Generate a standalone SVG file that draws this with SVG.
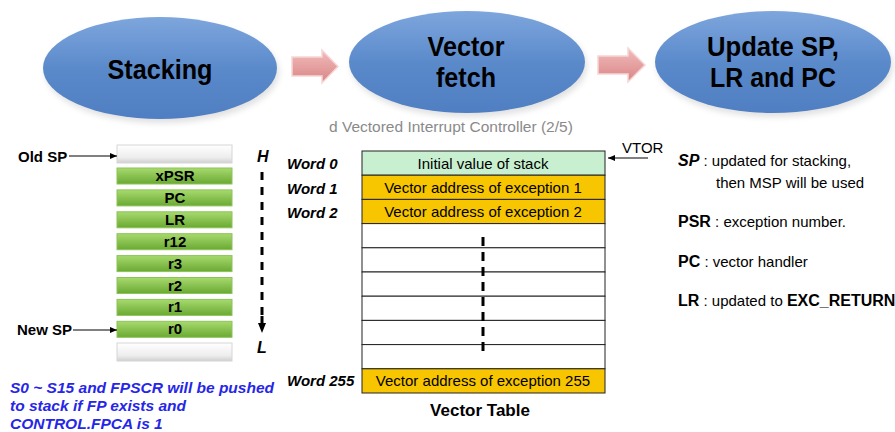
<svg xmlns="http://www.w3.org/2000/svg" width="895" height="432" viewBox="0 0 895 432">
<defs>
  <linearGradient id="gBlue" x1="0" y1="0" x2="0" y2="1">
    <stop offset="0" stop-color="#7ea6dd"/>
    <stop offset="0.5" stop-color="#5b8acb"/>
    <stop offset="1" stop-color="#4f7ec2"/>
  </linearGradient>
  <linearGradient id="gPink" x1="0" y1="0" x2="0" y2="1">
    <stop offset="0" stop-color="#f2bcbc"/>
    <stop offset="1" stop-color="#d98585"/>
  </linearGradient>
  <linearGradient id="gGreen" x1="0" y1="0" x2="0" y2="1">
    <stop offset="0" stop-color="#a8da6e"/>
    <stop offset="1" stop-color="#6aa933"/>
  </linearGradient>
  <linearGradient id="gEmpty" x1="0" y1="0" x2="0" y2="1">
    <stop offset="0" stop-color="#ffffff"/>
    <stop offset="0.7" stop-color="#ededed"/>
    <stop offset="1" stop-color="#cfcfcf"/>
  </linearGradient>
  <filter id="blur" x="-20%" y="-20%" width="140%" height="140%">
    <feGaussianBlur stdDeviation="3"/>
  </filter>
  <marker id="ah" markerWidth="8" markerHeight="8" refX="7" refY="4" orient="auto" markerUnits="userSpaceOnUse">
    <path d="M0,1 L7,4 L0,7 Z" fill="#000"/>
  </marker>
</defs>
<style>
  .ell { fill: url(#gBlue); }
  .shadow { fill: #000; opacity: 0.12; filter: url(#blur); }
  .big { font-family: "Liberation Sans", Arial, sans-serif; font-weight: bold; font-size: 27px; fill: #000; text-anchor: middle; }
  .barrow { fill: url(#gPink); stroke: #f7d6d6; stroke-width: 1.5; }
  .gbox { fill: url(#gGreen); stroke: #8cc458; stroke-width: 1; }
  .ebox { fill: url(#gEmpty); stroke: #d6d6d6; stroke-width: 1; }
  .blbl { font-family: "Liberation Sans", Arial, sans-serif; font-weight: bold; font-size: 15px; fill: #000; text-anchor: middle; }
  .sp { font-family: "Liberation Sans", Arial, sans-serif; font-weight: bold; font-size: 15px; fill: #000; }
  .hl { font-family: "Liberation Sans", Arial, sans-serif; font-weight: bold; font-style: italic; font-size: 16px; fill: #000; }
  .word { font-family: "Liberation Sans", Arial, sans-serif; font-weight: bold; font-style: italic; font-size: 15px; fill: #000; }
  .cell { stroke: #222; stroke-width: 1; }
  .ctext { font-family: "Liberation Sans", Arial, sans-serif; font-size: 15px; fill: #000; text-anchor: middle; }
  .conn { stroke: #000; stroke-width: 1; fill: none; }
  .dash { stroke: #000; stroke-width: 3; fill: none; }
  .blue { font-family: "Liberation Sans", Arial, sans-serif; font-weight: bold; font-style: italic; font-size: 15.5px; fill: #2626e8; }
  .rl { font-family: "Liberation Sans", Arial, sans-serif; font-weight: bold; font-size: 16px; fill: #000; }
  .rd { font-family: "Liberation Sans", Arial, sans-serif; font-size: 15px; fill: #000; }
</style>
<rect width="895" height="432" fill="#ffffff"/>

<!-- Top process ellipses -->
<g id="stacking">
  <ellipse class="shadow" cx="162" cy="72" rx="117" ry="51"/>
  <ellipse class="ell" cx="160" cy="68" rx="117" ry="51"/>
  <text class="big" x="160" y="79" textLength="105" lengthAdjust="spacingAndGlyphs">Stacking</text>
</g>
<g id="vector-fetch">
  <ellipse class="shadow" cx="469" cy="66" rx="118" ry="51"/>
  <ellipse class="ell" cx="467" cy="62" rx="118" ry="51"/>
  <text class="big" x="466" y="56" textLength="77" lengthAdjust="spacingAndGlyphs">Vector</text>
  <text class="big" x="466" y="87" textLength="60" lengthAdjust="spacingAndGlyphs">fetch</text>
</g>
<g id="update">
  <ellipse class="shadow" cx="775" cy="66" rx="118" ry="51"/>
  <ellipse class="ell" cx="773" cy="62" rx="118" ry="51"/>
  <text class="big" x="773" y="56" textLength="132" lengthAdjust="spacingAndGlyphs">Update SP,</text>
  <text class="big" x="773" y="87" textLength="126" lengthAdjust="spacingAndGlyphs">LR and PC</text>
</g>

<!-- Caption -->
<text x="329" y="132" font-family="'Liberation Sans', Arial, sans-serif" font-size="15.5" fill="#8a8a8a">d Vectored Interrupt Controller (2/5)</text>

<!-- Stack -->
<g id="stack">
  <text class="sp" x="18" y="162">Old SP</text>
  <text class="sp" x="17" y="335">New SP</text>
  <rect class="ebox" x="117" y="145" width="115" height="18"/>
  <rect class="gbox" x="117" y="168" width="115" height="16"/>
  <text class="blbl" x="175" y="181">xPSR</text>
  <rect class="gbox" x="117" y="189.9" width="115" height="16"/>
  <text class="blbl" x="175" y="202.9">PC</text>
  <rect class="gbox" x="117" y="211.8" width="115" height="16"/>
  <text class="blbl" x="175" y="224.8">LR</text>
  <rect class="gbox" x="117" y="233.7" width="115" height="16"/>
  <text class="blbl" x="175" y="246.7">r12</text>
  <rect class="gbox" x="117" y="255.6" width="115" height="16"/>
  <text class="blbl" x="175" y="268.6">r3</text>
  <rect class="gbox" x="117" y="277.5" width="115" height="16"/>
  <text class="blbl" x="175" y="290.5">r2</text>
  <rect class="gbox" x="117" y="299.4" width="115" height="16"/>
  <text class="blbl" x="175" y="312.4">r1</text>
  <rect class="gbox" x="117" y="321.3" width="115" height="16"/>
  <text class="blbl" x="175" y="334.3">r0</text>
  <rect class="ebox" x="117" y="343" width="115" height="18"/>
  <text class="hl" x="257" y="162">H</text>
  <text class="hl" x="257" y="353">L</text>
</g>

<g id="fp-note">
  <text class="blue" x="10" y="393">S0 ~ S15 and FPSCR will be pushed</text>
  <text class="blue" x="10" y="411">to stack if FP exists and</text>
  <text class="blue" x="10" y="429">CONTROL.FPCA is 1</text>
</g>

<!-- Vector table -->
<g id="vector-table">
  <rect class="cell" x="362" y="151" width="243" height="24.2" fill="#c8f0d0"/>
  <rect class="cell" x="362" y="175.2" width="243" height="24.2" fill="#f7c600"/>
  <rect class="cell" x="362" y="199.4" width="243" height="24.2" fill="#f7c600"/>
  <rect class="cell" x="362" y="223.6" width="243" height="24.2" fill="#ffffff"/>
  <rect class="cell" x="362" y="247.8" width="243" height="24.2" fill="#ffffff"/>
  <rect class="cell" x="362" y="272" width="243" height="24.2" fill="#ffffff"/>
  <rect class="cell" x="362" y="296.2" width="243" height="24.2" fill="#ffffff"/>
  <rect class="cell" x="362" y="320.4" width="243" height="24.2" fill="#ffffff"/>
  <rect class="cell" x="362" y="344.6" width="243" height="24.2" fill="#ffffff"/>
  <rect class="cell" x="362" y="368.8" width="243" height="24.2" fill="#f7c600"/>
  <text class="ctext" x="483" y="168.5">Initial value of stack</text>
  <text class="ctext" x="483" y="192.7">Vector address of exception 1</text>
  <text class="ctext" x="483" y="216.9">Vector address of exception 2</text>
  <text class="ctext" x="483" y="386.3">Vector address of exception 255</text>
  <text class="word" x="287" y="169">Word 0</text>
  <text class="word" x="287" y="194">Word 1</text>
  <text class="word" x="287" y="218">Word 2</text>
  <text class="word" x="287" y="386">Word 255</text>
  <text x="480" y="416" font-family="'Liberation Sans', Arial, sans-serif" font-weight="bold" font-size="17" text-anchor="middle">Vector Table</text>
  <text x="622" y="153" font-family="'Liberation Sans', Arial, sans-serif" font-size="15">VTOR</text>
</g>

<!-- Right notes -->
<g id="notes">
  <text x="678" y="166"><tspan class="hl">SP</tspan><tspan class="rd"> : updated for stacking,</tspan></text>
  <text class="rd" x="716" y="188">then MSP will be used</text>
  <text x="678" y="227"><tspan class="rl">PSR</tspan><tspan class="rd"> : exception number.</tspan></text>
  <text x="678" y="267"><tspan class="rl">PC</tspan><tspan class="rd"> : vector handler</tspan></text>
  <text x="678" y="306"><tspan class="rl">LR</tspan><tspan class="rd"> : updated to </tspan><tspan class="rl" font-size="15">EXC_RETURN</tspan></text>
</g>

<g id="connectors">
  <path class="barrow" d="M292 57 H322 V50 L338 66.5 L322 83 V76 H292 Z"/>
  <path class="barrow" d="M598 56 H628 V48 L645 65 L628 82 V74 H598 Z"/>
  <line class="conn" x1="69" y1="156" x2="117" y2="156" marker-end="url(#ah)"/>
  <line class="conn" x1="73" y1="330" x2="117" y2="330" marker-end="url(#ah)"/>
  <line class="conn" x1="648" y1="158" x2="608" y2="158" marker-end="url(#ah)"/>
  <path class="dash" d="M262 172 V322" stroke-dasharray="8 7"/>
  <path d="M262 316 V326" class="dash"/>
  <polygon points="258,323 266,323 262,333" fill="#000"/>
  <path class="dash" d="M483 237 V355" stroke-dasharray="9 6"/>
</g>
</svg>
